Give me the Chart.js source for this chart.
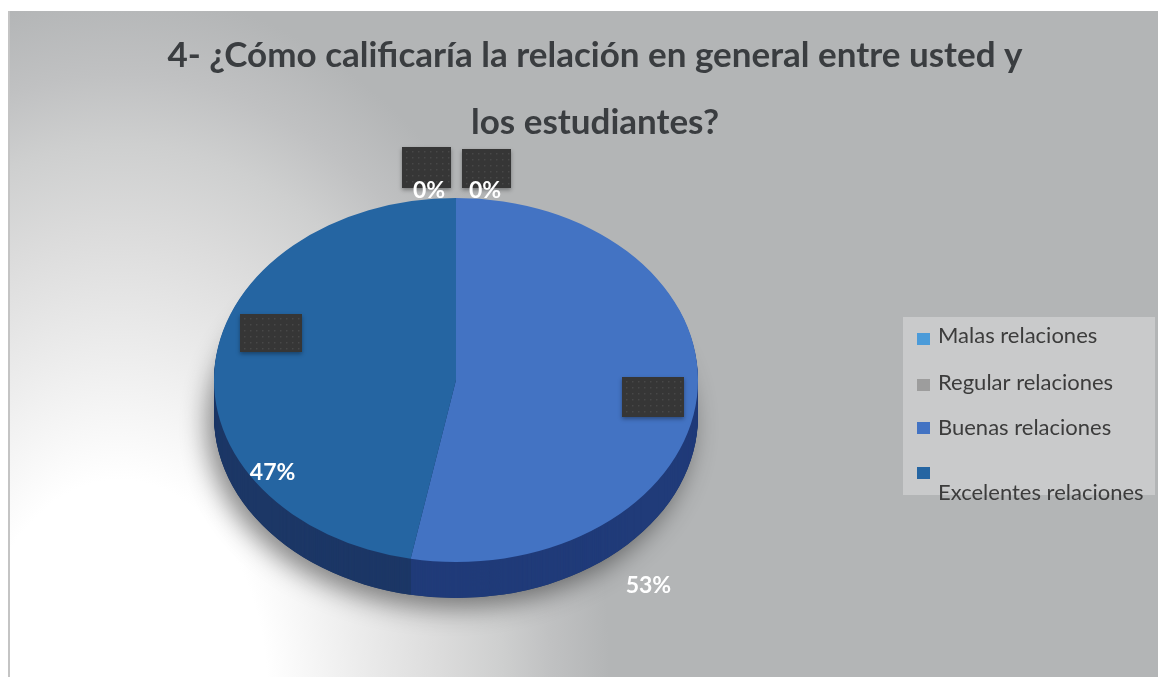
<!DOCTYPE html>
<html lang="es">
<head>
<meta charset="utf-8">
<title>Relación con los estudiantes</title>
<script src="https://cdn.jsdelivr.net/npm/chart.js@4.4.1/dist/chart.umd.min.js"></script>
<style>
  html, body { margin: 0; padding: 0; background: #fff; }
  canvas { display: block; }
</style>
</head>
<body>
<canvas id="grafico" width="1158" height="677"></canvas>
<script>
const titulo = ['4- ¿Cómo calificaría la relación en general entre usted y', 'los estudiantes?'];
const categorias = ['Malas relaciones', 'Regular relaciones', 'Buenas relaciones', 'Excelentes relaciones'];
const valores = [0, 0, 53, 47];
const colores = ['#4b9bd9', '#9d9d9d', '#4373c3', '#2565a2'];
const coloresLado = ['#2a5b8a', '#5a5a5a', '#203b79', '#1c3766'];

// posicion del pastel en pantalla (elipse) y grosor del lado
const pastel = { x: 456, y: 380, ry: 182, fondo: 36 };

// cajas oscuras y etiquetas, desplazadas desde el borde de cada porcion
const cajas = [
    { dx: -29.5, dy: -30.5, w: 49, h: 41 },
    { dx: 30.5, dy: -29.5, w: 49, h: 39 },
    { dx: -44, dy: 0, w: 62, h: 40 },
    { dx: 56, dy: -30, w: 62, h: 38 },
];
const etiquetas = [
    { dx: -27, dy: 0 },
    { dx: 29, dy: 0 },
    { dx: -48.5, dy: 196 },
    { dx: 57.5, dy: 117 },
];

const leyenda = { x: 903, y: 317, w: 252, h: 178, cuadro: 917, texto: 938,
    filas: [{ c: 333, t: 343 }, { c: 379, t: 390 }, { c: 422, t: 435 }, { c: 467, t: 500 }] };

function transformar(ctx, arco, dy) {
    const k = pastel.ry / arco.outerRadius;
    ctx.translate(pastel.x - arco.x, pastel.y + dy);
    ctx.scale(1, k);
    ctx.translate(0, -arco.y);
}

function puntoBorde(arco) {
    const k = pastel.ry / arco.outerRadius;
    const ang = (arco.startAngle + arco.endAngle) / 2;
    return {
        x: pastel.x + Math.cos(ang) * arco.outerRadius,
        y: pastel.y + Math.sin(ang) * arco.outerRadius * k
    };
}

const fondo = {
    id: 'fondo',
    beforeDraw(chart) {
        const ctx = chart.ctx;
        ctx.save();
        ctx.fillStyle = '#ffffff';
        ctx.fillRect(0, 0, chart.width, chart.height);
        ctx.beginPath();
        ctx.rect(9, 11, chart.width - 9, chart.height - 11);
        ctx.clip();
        ctx.translate(120, 690);
        ctx.scale(0.7, 1);
        const g = ctx.createRadialGradient(0, 0, 0, 0, 0, 700);
        g.addColorStop(0, '#ffffff');
        g.addColorStop(0.3, '#ffffff');
        g.addColorStop(0.45, '#f0f0f0');
        g.addColorStop(0.65, '#dcdcdc');
        g.addColorStop(0.78, '#cecfcf');
        g.addColorStop(0.88, '#c0c1c2');
        g.addColorStop(1, '#b3b5b6');
        ctx.fillStyle = g;
        ctx.fillRect(-3000, -3000, 6000, 6000);
        ctx.restore();
        ctx.fillStyle = '#c4c4c4';
        ctx.fillRect(8, 11, 2, chart.height - 11);
    }
};

const pastel3d = {
    id: 'pastel3d',
    beforeDatasetsDraw(chart) {
        const ctx = chart.ctx;
        const arcos = chart.getDatasetMeta(0).data;
        const a = arcos[0];

        ctx.save();
        transformar(ctx, a, pastel.fondo);
        ctx.shadowColor = 'rgba(0,0,0,0.45)';
        ctx.shadowBlur = 26;
        ctx.shadowOffsetX = -7;
        ctx.shadowOffsetY = 10;
        ctx.fillStyle = coloresLado[3];
        ctx.beginPath();
        ctx.arc(a.x, a.y, a.outerRadius, 0, Math.PI * 2);
        ctx.fill();
        ctx.restore();

        for (let d = pastel.fondo; d > 0; d--) {
            arcos.forEach((arco, i) => {
                if (arco.endAngle - arco.startAngle <= 0) return;
                ctx.save();
                transformar(ctx, arco, d);
                ctx.fillStyle = coloresLado[i];
                ctx.beginPath();
                ctx.moveTo(arco.x, arco.y);
                ctx.arc(arco.x, arco.y, arco.outerRadius, arco.startAngle, arco.endAngle);
                ctx.closePath();
                ctx.fill();
                ctx.restore();
            });
        }

        ctx.save();
        transformar(ctx, a, 0);
    },
    afterDatasetsDraw(chart) {
        chart.ctx.restore();
    }
};

const rotulos = {
    id: 'rotulos',
    afterDraw(chart) {
        const ctx = chart.ctx;
        const arcos = chart.getDatasetMeta(0).data;
        const datos = chart.data.datasets[0].data;
        const total = datos.reduce((s, v) => s + v, 0);
        ctx.save();
        arcos.forEach((arco, i) => {
            const p = puntoBorde(arco);
            const c = cajas[i];
            const bx = Math.round(p.x + c.dx - c.w / 2);
            const by = Math.round(p.y + c.dy - c.h / 2);
            ctx.save();
            ctx.shadowColor = 'rgba(0,0,0,0.35)';
            ctx.shadowBlur = 4;
            ctx.shadowOffsetY = 2;
            ctx.fillStyle = '#363636';
            ctx.fillRect(bx, by, c.w, c.h);
            ctx.restore();
            ctx.fillStyle = 'rgba(255,255,255,0.09)';
            for (let yy = by + 4; yy < by + c.h - 2; yy += 6) {
                for (let xx = bx + 4; xx < bx + c.w - 2; xx += 6) {
                    ctx.fillRect(xx, yy, 1.5, 1.5);
                }
            }
        });
        ctx.font = 'bold 23px Lato';
        ctx.fillStyle = '#ffffff';
        ctx.textAlign = 'center';
        ctx.textBaseline = 'alphabetic';
        arcos.forEach((arco, i) => {
            const p = puntoBorde(arco);
            const e = etiquetas[i];
            ctx.fillText(Math.round(datos[i] / total * 100) + '%', p.x + e.dx, p.y + e.dy);
        });
        ctx.restore();
    }
};

const leyendaPropia = {
    id: 'leyendaPropia',
    afterDraw(chart) {
        const ctx = chart.ctx;
        const fondoColores = chart.data.datasets[0].backgroundColor;
        ctx.save();
        ctx.fillStyle = '#c9cacb';
        ctx.fillRect(leyenda.x, leyenda.y, leyenda.w, leyenda.h);
        ctx.font = '22px Lato';
        ctx.textAlign = 'left';
        ctx.textBaseline = 'alphabetic';
        chart.data.labels.forEach((nombre, i) => {
            const f = leyenda.filas[i];
            ctx.fillStyle = fondoColores[i];
            ctx.fillRect(leyenda.cuadro, f.c, 13, 12);
            ctx.fillStyle = '#3c3c3c';
            ctx.fillText(nombre, leyenda.texto, f.t);
        });
        ctx.restore();
    }
};

const grafico = new Chart(document.getElementById('grafico'), {
    type: 'pie',
    data: {
        labels: categorias,
        datasets: [{
            data: valores,
            backgroundColor: colores,
            borderWidth: 0,
            hoverOffset: 0,
            radius: 242,
            clip: false
        }]
    },
    options: {
        responsive: false,
        animation: false,
        events: [],
        layout: { padding: { left: 32, right: 0, top: 0, bottom: 37 } },
        plugins: {
            legend: { display: false },
            tooltip: { enabled: false },
            title: {
                display: true,
                text: titulo,
                color: '#3a3d40',
                font: { family: 'Lato', size: 35, weight: 'bold', lineHeight: 1.914 },
                padding: { top: 22, bottom: 0 }
            }
        }
    },
    plugins: [fondo, pastel3d, rotulos, leyendaPropia]
});
</script>
</body>
</html>
